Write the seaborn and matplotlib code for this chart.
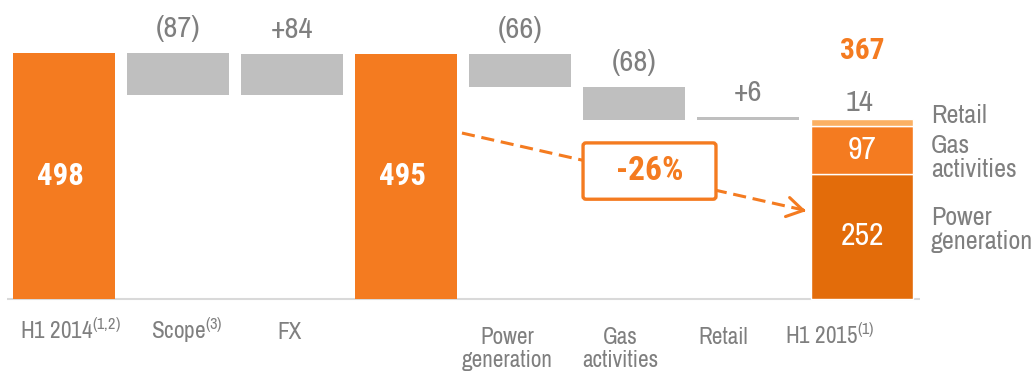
import matplotlib
matplotlib.use("Agg")
import matplotlib.pyplot as plt
from matplotlib import font_manager
from matplotlib.font_manager import FontProperties
from matplotlib.textpath import TextToPath
from matplotlib.patches import FancyBboxPatch
import pandas as pd
import seaborn as sns

# ---- data -------------------------------------------------------------
step_keys = ["h1_2014", "scope", "fx", "h1_2014_pf", "power", "gas", "retail", "h1_2015"]
step_labels = ["H1 2014$^{(1{,}2)}$", "Scope$^{(3)}$", "FX", "",
               "Power\ngeneration", "Gas\nactivities", "Retail", "H1 2015$^{(1)}$"]
step_values = [498, -87, 84, 495, -66, -68, 6, 367]
step_kinds = ["total", "delta", "delta", "total", "delta", "delta", "delta", "stack"]

segment_names = ["Power\ngeneration", "Gas\nactivities", "Retail"]
segment_values = [252, 97, 14]

# ---- style ------------------------------------------------------------
sns.set_style("white")

ARIAL_CAP = 0.716
CANDIDATES = ["Liberation Sans Narrow", "Arial Narrow", "Roboto Condensed",
              "Archivo Narrow", "Pragati Narrow", "Encode Sans Semi Condensed",
              "Sofia Sans Semi Condensed", "IBM Plex Sans Condensed"]


def _weight(w):
    if isinstance(w, str):
        return font_manager.weight_dict.get(w, 400)
    return int(w)


def font_metrics(family, weight="normal"):
    ttp = TextToPath()
    fp = FontProperties(family=family, size=100, weight=weight)
    w, _, _ = ttp.get_text_width_height_descent("generation", fp, ismath=False)
    _, hc, dc = ttp.get_text_width_height_descent("H", fp, ismath=False)
    return w / 100.0, (hc - dc) / 100.0


def pick_fonts():
    """Pick condensed grotesques close to Arial Narrow: one regular, one bold."""
    entries = font_manager.fontManager.ttflist
    available = {f.name for f in entries}
    has_bold = {f.name for f in entries if _weight(f.weight) >= 600}
    scored = []
    for rank, cand in enumerate(CANDIDATES):
        if cand not in available:
            continue
        try:
            width, cap = font_metrics(cand)
        except Exception:
            continue
        # Arial Narrow: "generation" ~3.87 em wide for a 0.716 em cap height
        score = abs(width / cap - 3.87 / ARIAL_CAP) + 0.15 * rank
        scored.append((score, cand, cap))
    scored.sort()
    if not scored:
        return ("DejaVu Sans", 0.73), ("DejaVu Sans", 0.73)
    regular = scored[0][1:]
    bold = next((s[1:] for s in scored if s[1] in has_bold), None)
    if bold is None:
        bold = ("Liberation Sans", 0.73) if "Liberation Sans" in has_bold else regular
    return regular, bold


(narrow, cap_h), (narrow_bold, cap_b) = pick_fonts()
plt.rcParams["font.family"] = [narrow, "DejaVu Sans"]
plt.rcParams["mathtext.fontset"] = "custom"
plt.rcParams["mathtext.rm"] = narrow
plt.rcParams["mathtext.it"] = narrow
plt.rcParams["mathtext.bf"] = narrow_bold + ":bold"

SCALE = ARIAL_CAP / cap_h
SCALE_B = ARIAL_CAP / cap_b
BOLD = dict(family=[narrow_bold, "DejaVu Sans"], fontweight="bold")


def fs(size):
    """Font size giving the same cap height as Arial at `size`."""
    return size * SCALE


def fsb(size):
    return size * SCALE_B


ORANGE = "#F47B20"
DARK = "#E36C0A"
LIGHT = "#FBB063"
GREY_BAR = "#BFBFBF"
GREY_TXT = "#7F7F7F"
AXIS = "#D9D9D9"
PT = 0.72  # points per pixel at 100 dpi

fig = plt.figure(figsize=(10.36, 3.73), dpi=100)
ax = fig.add_axes([0, 0, 1, 1])

# ---- waterfall geometry -------------------------------------------------
bottoms, heights, tops = [], [], []
running = 0
for v, k in zip(step_values, step_kinds):
    if k == "delta":
        b = running + min(v, 0)
        bottoms.append(b)
        heights.append(abs(v))
        running += v
    else:
        bottoms.append(0)
        heights.append(v)
        running = v
    tops.append(bottoms[-1] + heights[-1])

df = pd.DataFrame({"step": step_keys, "bottom": bottoms, "height": heights,
                   "kind": step_kinds, "value": step_values})

common = dict(order=step_keys, width=0.9, errorbar=None, saturation=1,
              linewidth=0, ax=ax)

tot = df[df.kind == "total"]
sns.barplot(x=tot.step, y=tot.height, bottom=tot.bottom.tolist(), color=ORANGE,
            zorder=2, **common)
dlt = df[df.kind == "delta"]
sns.barplot(x=dlt.step, y=dlt.height, bottom=dlt.bottom.tolist(), color=GREY_BAR,
            zorder=2, **common)

# stacked final bar
seg_colors = [DARK, ORANGE, LIGHT]
seg_bottom = 0
seg_mids = []
for name, val, col in zip(segment_names, segment_values, seg_colors):
    sns.barplot(x=["h1_2015"], y=[val], bottom=[seg_bottom], color=col,
                order=step_keys, width=0.9, errorbar=None, saturation=1,
                edgecolor="white", linewidth=1.0, zorder=2, ax=ax)
    seg_mids.append(seg_bottom + val / 2)
    seg_bottom += val
stack_top = seg_bottom

ax.set_xlim(-0.561, 8.526)
ax.set_ylim(-150.8, 604.3)
ax.axis("off")

# baseline
ax.hlines(-2, -0.5, 7.51, color=AXIS, lw=1.5, zorder=1)

# ---- value labels ------------------------------------------------------
for i, (k, v, b, h, t) in enumerate(zip(step_kinds, step_values, bottoms, heights, tops)):
    if k == "total":
        ax.text(i - 0.03, b + h / 2, f"{v}", ha="center", va="center", color="white",
                fontsize=fsb(22), zorder=3, **BOLD)
    elif k == "delta":
        txt = f"({abs(v)})" if v < 0 else f"+{v}"
        ax.annotate(txt, xy=(i, t), xytext=(0, 16 * PT), textcoords="offset points",
                    ha="center", va="baseline", color=GREY_TXT, fontsize=fs(21))

last = len(step_keys) - 1
for mid, val in zip(seg_mids[:2], segment_values[:2]):
    ax.text(last, mid, f"{val}", ha="center", va="center", color="white",
            fontsize=fs(22), zorder=3)
ax.annotate(f"{segment_values[2]}", xy=(last, stack_top), xytext=(-3 * PT, 8 * PT),
            textcoords="offset points", ha="center", va="baseline",
            color=GREY_TXT, fontsize=fs(21))
ax.annotate(f"{step_values[-1]}", xy=(last, stack_top), xytext=(0, 60 * PT),
            textcoords="offset points", ha="center", va="baseline",
            color=ORANGE, fontsize=fsb(21), **BOLD)

# segment names to the right of the final bar
seg_label_y = [149, 295, 356]
for name, y in zip(segment_names, seg_label_y):
    for j, line in enumerate(name.split("\n")):
        ax.annotate(line, xy=(7.605, y), xytext=(0, -24.5 * j * PT),
                    textcoords="offset points", ha="left", va="baseline",
                    color=GREY_TXT, fontsize=fs(18))

# category labels
label_dx = [0.06, 0.08, -0.02, 0, -0.11, -0.12, -0.22, -0.28]
label_drop = [40.5, 40.5, 40.5, 45.5, 45.5, 45.5, 45.5, 45.5]
for i, (lab, dx, dy) in enumerate(zip(step_labels, label_dx, label_drop)):
    for j, line in enumerate(lab.split("\n")):
        if not line:
            continue
        ax.annotate(line, xy=(i + dx, 0), xytext=(0, -(dy + 23 * j) * PT),
                    textcoords="offset points", ha="center", va="baseline",
                    color=GREY_TXT, fontsize=fs(16))

# ---- change arrow ------------------------------------------------------
change = round((step_values[-1] - step_values[3]) / step_values[3] * 100)
x0, y0 = 3.491, 335.0
x1, y1 = 6.509, 177.0
ax.plot([x0, x1 - 0.02], [y0, y1 + 2.0], color=ORANGE, lw=2.2,
        dashes=(4.3, 2.2), zorder=4, solid_capstyle="butt")
ax.annotate("", xy=(x1, y1), xytext=(x1 - 0.03, y1 + 1.5),
            arrowprops=dict(arrowstyle="->,head_length=1.15,head_width=0.7",
                            color=ORANGE, lw=2.2, shrinkA=0, shrinkB=0),
            zorder=5)
bx0, bx1, by0, by1 = 4.553, 5.719, 201.0, 315.0
box = FancyBboxPatch((bx0, by0), bx1 - bx0, by1 - by0,
                     boxstyle="round,pad=0,rounding_size=0.025",
                     mutation_aspect=230.8, facecolor="white",
                     edgecolor=ORANGE, lw=2.4, zorder=6)
ax.add_patch(box)
ax.text((bx0 + bx1) / 2, (by0 + by1) / 2, f"{change}%", ha="center", va="center",
        color=ORANGE, fontsize=fsb(24), zorder=7, **BOLD)

fig.savefig("out.png", dpi=100, facecolor="white")
